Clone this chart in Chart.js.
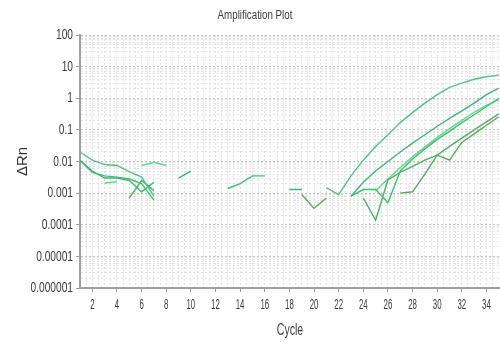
<!DOCTYPE html>
<html>
<head>
<meta charset="utf-8">
<title>Amplification Plot</title>
<script src="https://cdn.jsdelivr.net/npm/chart.js@4.4.1/dist/chart.umd.min.js"></script>
<style>
  html, body { margin: 0; padding: 0; background: #fff; }
  #wrap { width: 500px; height: 346px; }
</style>
</head>
<body>
<div id="wrap"><canvas id="plot"></canvas></div>
<script>
// cycles 1..35
const cycles = [1,2,3,4,5,6,7,8,9,10,11,12,13,14,15,16,17,18,19,20,21,22,23,24,25,26,27,28,29,30,31,32,33,34,35];

// delta Rn per well (null = negative / not plotted on log axis)
const well1 = [0.02,0.011,0.008,0.0075,0.0048,0.0032,0.0008,null,null,null,null,null,null,null,null,null,null,null,null,null,
               0.0015,0.0009,0.0035,0.011,0.03,0.07,0.17,0.35,0.7,1.3,2.2,3.0,4.0,4.8,5.4];
const well2 = [0.011,0.005,0.003,0.003,0.0025,0.0011,0.0022,null,0.003,0.005,null,null,null,null,null,null,null,0.0013,0.0013,null,
               null,null,0.0008,0.0022,0.005,0.01,0.02,0.038,0.07,0.13,0.23,0.4,0.7,1.3,2.1];
const well3 = [0.011,0.0045,0.0035,0.0032,0.0028,0.002,0.0006,null,null,null,null,null,0.0014,0.002,0.0035,0.0035,null,null,null,null,
               null,null,0.0008,0.0013,0.0013,0.0005,0.005,0.012,0.025,0.05,0.09,0.17,0.3,0.55,1.0];
const well4 = [null,null,null,null,0.0007,0.0025,0.0012,null,null,null,null,null,null,null,null,null,null,null,null,null,
               null,null,null,0.0007,0.00014,0.0026,0.0045,0.007,0.011,0.016,0.03,0.055,0.1,0.18,0.32];
const well5 = [null,null,null,null,null,null,null,null,null,null,null,null,null,null,null,null,null,null,0.0009,0.00033,
               0.0007,null,null,null,null,null,0.001,0.0011,0.004,0.016,0.011,0.04,0.075,0.14,0.26];
const well6 = [null,null,0.0021,0.0023,null,0.0075,0.0095,0.0075,null,null,null,null,null,null,null,null,null,null,null,null,
               null,null,null,null,0.0012,0.0028,0.0065,0.014,0.029,0.058,0.11,0.2,0.36,0.6,0.9];

const wells = [well1, well2, well3, well4, well5, well6];
const wellColors = ['#4fc389', '#3db57a', '#35c86a', '#4fb065', '#5aa85c', '#62d98a'];

const xTickLabels = [2,4,6,8,10,12,14,16,18,20,22,24,26,28,30,32,34];
const yTickValues = [100, 10, 1, 0.1, 0.01, 0.001, 0.0001, 0.00001, 0.000001];
const yTickLabels = ['100','10','1','0.1','0.01','0.001','0.0001','0.00001','0.000001'];

const FONT = "'Liberation Sans', Arial, sans-serif";
const TEXT = '#3a3a3a';

// the original uses a tall narrow face; squeeze regular glyphs sideways
function squeezeText(ctx, text, px, py, align, size, sx) {
    ctx.save();
    ctx.font = size + 'px ' + FONT;
    ctx.fillStyle = TEXT;
    ctx.textAlign = align;
    ctx.textBaseline = 'middle';
    ctx.translate(px, py);
    ctx.scale(sx, 1);
    ctx.fillText(text, 0, 0);
    ctx.restore();
}

const narrowLabels = {
    id: 'narrowLabels',
    afterDraw(chart) {
        const { ctx, chartArea: area, scales: { x, y } } = chart;
        squeezeText(ctx, 'Amplification Plot', 255, 16, 'center', 12.5, 0.78);
        yTickValues.forEach((v, i) => {
            squeezeText(ctx, yTickLabels[i], area.left - 7, y.getPixelForValue(v), 'right', 15, 0.68);
        });
        xTickLabels.forEach(c => {
            squeezeText(ctx, String(c), x.getPixelForValue(c), area.bottom + 17, 'center', 14, 0.56);
        });
        squeezeText(ctx, 'Cycle', (area.left + area.right) / 2, 331, 'center', 16, 0.66);
    }
};

function isDecade(v) {
    const e = Math.log10(v);
    return Math.abs(e - Math.round(e)) < 1e-9;
}

const datasets = wells.map((w, i) => ({
    label: 'Well ' + (i + 1),
    data: cycles.map((c, j) => ({ x: c, y: w[j] })),
    borderColor: wellColors[i],
    borderWidth: 1.4,
    pointRadius: 0,
    tension: 0,
    spanGaps: false
}));

new Chart(document.getElementById('plot').getContext('2d'), {
    type: 'line',
    data: { datasets },
    plugins: [narrowLabels],
    options: {
        responsive: true,
        maintainAspectRatio: false,
        animation: false,
        layout: { padding: { top: 35, right: 0, bottom: 0, left: 0 } },
        plugins: {
            legend: { display: false },
            tooltip: { enabled: false },
            title: { display: false }
        },
        scales: {
            x: {
                type: 'linear',
                min: 1,
                max: 35.1,
                ticks: { display: false, stepSize: 0.5, autoSkip: false },
                grid: {
                    color: '#e3e3e3',
                    tickLength: 4,
                    tickColor: ctx => (ctx.tick && xTickLabels.includes(ctx.tick.value)) ? '#999' : 'rgba(0,0,0,0)'
                },
                border: { display: true, color: '#a0a0a0', width: 2, dash: [2, 2] },
                afterFit: axis => { axis.height = 58; }
            },
            y: {
                type: 'logarithmic',
                min: 0.000001,
                max: 100,
                afterBuildTicks: axis => {
                    const t = [];
                    for (let e = -6; e <= 2; e++) {
                        for (let s = 1; s <= 9; s++) {
                            const v = s * Math.pow(10, e);
                            if (v <= 100.0001) t.push({ value: e < 0 ? Number(v.toFixed(-e)) : v });
                        }
                    }
                    axis.ticks = t;
                },
                ticks: { display: false, autoSkip: false },
                grid: {
                    color: ctx => (ctx.tick && isDecade(ctx.tick.value)) ? '#c4c4c4' : '#e4e4e4',
                    tickLength: 4,
                    tickColor: ctx => (ctx.tick && isDecade(ctx.tick.value)) ? '#999' : 'rgba(0,0,0,0)'
                },
                border: { display: true, color: '#a0a0a0', width: 2, dash: [2, 2] },
                title: {
                    display: true,
                    text: 'ΔRn',
                    color: '#333',
                    font: { size: 15, family: FONT },
                    padding: { top: 14, bottom: 0 }
                },
                afterFit: axis => { axis.width = 80; }
            }
        }
    }
});
</script>
</body>
</html>
